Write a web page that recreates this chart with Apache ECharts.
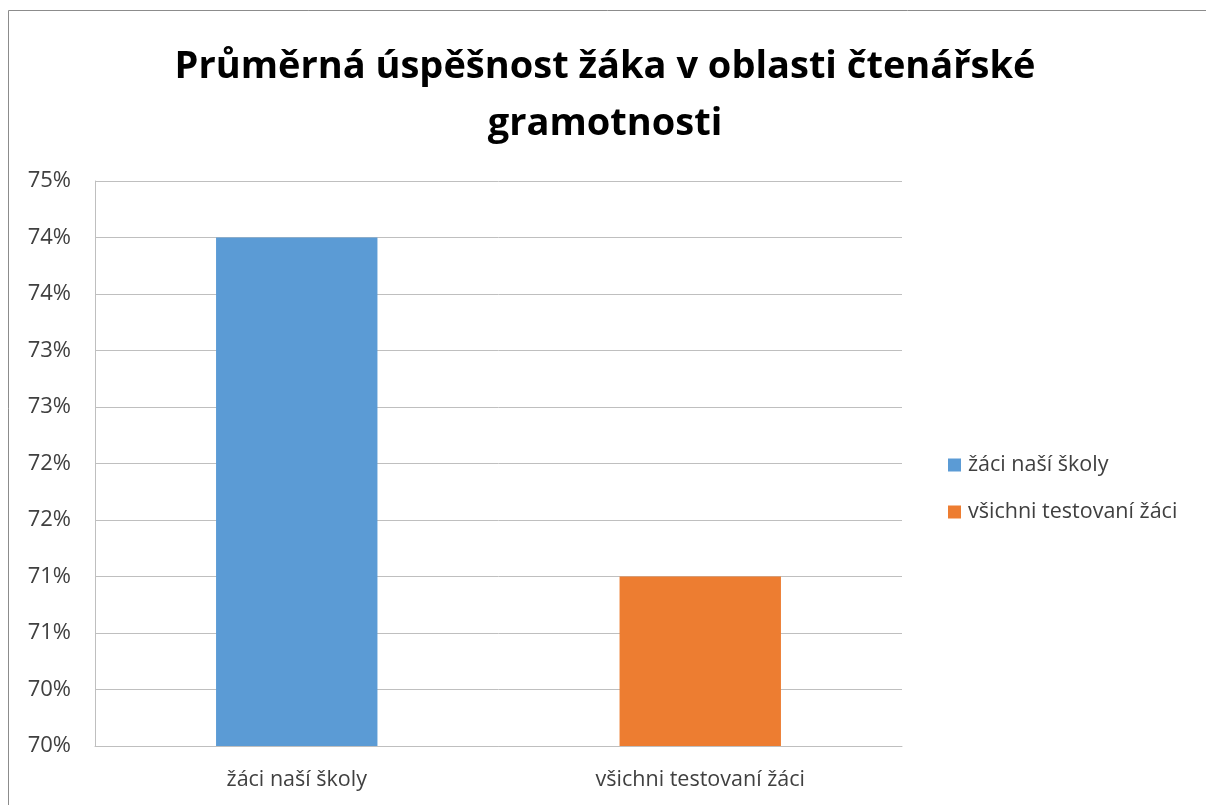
<!DOCTYPE html>
<html>
<head>
<meta charset="utf-8">
<script src="https://cdn.jsdelivr.net/npm/echarts@6/dist/echarts.min.js"></script>
<style>html,body{margin:0;padding:0;background:#fff}#c{width:1206px;height:805px}</style>
</head>
<body>
<div id="c"></div>
<script>
const titleText = 'Průměrná úspěšnost žáka v oblasti čtenářské\ngramotnosti';
const categories = ['žáci naší školy', 'všichni testovaní žáci'];
const seriesNames = ['žáci naší školy', 'všichni testovaní žáci'];
const seriesSchool = [74.5, null];
const seriesAll = [null, 71.5];
const yTickLabels = ['70%', '70%', '71%', '71%', '72%', '72%', '73%', '73%', '74%', '74%', '75%'];
const yMin = 70, yMax = 75, yStep = 0.5;

const chart = echarts.init(document.getElementById('c'));
const font = '"Open Sans", sans-serif';
chart.setOption({
  animation: false,
  backgroundColor: '#fff',
  graphic: [{
    type: 'rect', silent: true,
    shape: { x: 8.5, y: 10.5, width: 1210, height: 810 },
    style: { fill: 'none', stroke: '#8c8c8c', lineWidth: 1 }
  }],
  title: {
    text: titleText, left: 600, textAlign: 'center', top: 34,
    textStyle: { fontFamily: font, fontWeight: 'bold', fontSize: 38, lineHeight: 57, color: '#000' }
  },
  legend: {
    orient: 'vertical', left: 943, top: 448,
    itemWidth: 13, itemHeight: 13, itemGap: 23,
    icon: 'rect',
    data: seriesNames,
    textStyle: { fontFamily: font, fontSize: 21.5, color: '#404040', lineHeight: 24, padding: [0, 0, 0, 2] }
  },
  grid: { left: 95, right: 304, top: 181, bottom: 59, containLabel: false },
  xAxis: {
    type: 'category', data: categories,
    axisLine: { lineStyle: { color: '#bfbfbf' } },
    axisTick: { show: false },
    axisLabel: { fontFamily: font, fontSize: 21.5, color: '#404040', margin: 23 }
  },
  yAxis: {
    type: 'value', min: yMin, max: yMax, interval: yStep,
    axisLine: { show: true, lineStyle: { color: '#bfbfbf' } },
    axisTick: { show: false },
    splitLine: { lineStyle: { color: '#bfbfbf' } },
    axisLabel: {
      fontFamily: font, fontSize: 22, color: '#404040', margin: 24,
      formatter: v => yTickLabels[Math.round((v - yMin) / yStep)]
    }
  },
  series: [
    { name: seriesNames[0], type: 'bar', data: seriesSchool, barWidth: '40%', barGap: '-100%', itemStyle: { color: '#5B9BD5' } },
    { name: seriesNames[1], type: 'bar', data: seriesAll, barWidth: '40%', barGap: '-100%', itemStyle: { color: '#ED7D31' } }
  ]
});
</script>
</body>
</html>
